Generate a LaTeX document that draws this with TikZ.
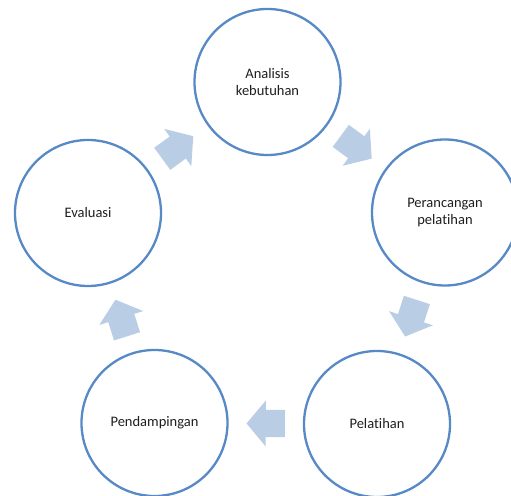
\documentclass[tikz,border=0pt]{standalone}
\usepackage{fontspec}
\setmainfont{Carlito}[Ligatures=NoCommon]
\usetikzlibrary{calc}
\definecolor{ringblue}{RGB}{86,137,197}
\definecolor{arrowblue}{RGB}{185,205,229}
\definecolor{txt}{RGB}{30,30,30}
\tikzset{
  stage/.style={circle, draw=ringblue, line width=2.3pt, minimum size=146pt,
    inner sep=0pt, align=center, text=txt,
    font=\fontsize{14.5}{17.3}\selectfont},
  blockarrow/.pic={\fill[arrowblue] (-19.2,-13.65) -- (0,-13.65) -- (0,-23)
    -- (19.2,0) -- (0,23) -- (0,13.65) -- (-19.2,13.65) -- cycle;},
  onchord/.style={sloped, allow upside down, midway}
}
\begin{document}
\begin{tikzpicture}[x=1pt,y=1pt]
\useasboundingbox (0,0) rectangle (511,495);
\clip (0,0) rectangle (511,495);
\node[stage] (A) at (267.5,413) {Analisis\\kebutuhan};
\node[stage] (P) at (445,282.5) {Perancangan\\pelatihan};
\node[stage] (L) at (377,71) {Pelatihan};
\node[stage] (D) at (154.5,72) {Pendampingan};
\node[stage] (E) at (88,282) {Evaluasi};
\path (E.center) -- pic[onchord]{blockarrow} (A.center);
\path (A.center) -- pic[onchord]{blockarrow} (P.center);
\path (P.center) -- pic[onchord]{blockarrow} (L.center);
\path (L.center) -- pic[onchord]{blockarrow} (D.center);
\path (D.center) -- pic[onchord]{blockarrow} (E.center);
\end{tikzpicture}
\end{document}
